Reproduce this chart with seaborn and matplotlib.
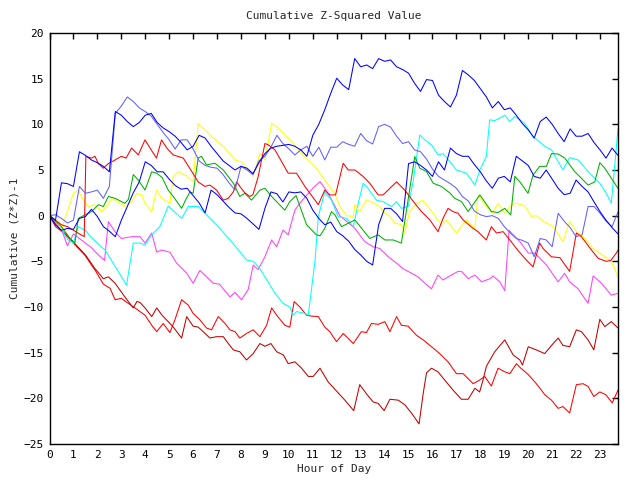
import matplotlib
matplotlib.use("Agg")
import matplotlib.pyplot as plt
import seaborn as sns
import pandas as pd

# ---- data: (hour, cumulative value) ----
blue_a_h = [0,0.25,0.5,0.75,1.0,1.25,1.5,1.75,2.0,2.25,2.5,2.75,3.0,3.25,3.5,3.75,4.0,4.25,4.5,4.75,5.0,5.25,5.5,5.75,6.0,6.25,6.5,6.75,7.0,7.25,7.5,7.75,8.0,8.25,8.5,8.75,9.0,9.25,9.5,9.75,10.0,10.25,10.5,10.75,11.0,11.25,11.5,11.75,12.0,12.25,12.5,12.75,13.0,13.25,13.5,13.75,14.0,14.25,14.5,14.75,15.0,15.25,15.5,15.75,16.0,16.25,16.5,16.75,17.0,17.25,17.5,17.75,18.0,18.25,18.5,18.75,19.0,19.25,19.5,19.75,20.0,20.25,20.5,20.75,21.0,21.25,21.5,21.75,22.0,22.25,22.5,22.75,23.0,23.25,23.5,23.75]
blue_a_v = [0,-0.5,3.6,3.5,3.2,7.0,6.6,6.1,5.8,5.4,4.8,11.4,11.0,10.3,9.75,10.2,11.0,11.2,10.2,9.6,9.2,8.7,8.0,7.2,7.6,8.8,8.5,7.6,6.8,6.0,5.5,5.0,5.4,5.2,4.6,5.8,6.8,7.4,7.6,7.7,7.8,7.6,7.2,6.5,8.8,10.0,11.6,13.4,15.05,14.3,13.8,17.2,16.3,16.5,16.1,17.2,16.9,17.05,16.3,16.0,15.6,14.5,13.6,14.9,14.8,13.2,12.5,11.9,13.2,15.9,15.4,14.8,13.9,13.0,11.8,12.5,11.6,11.8,11.0,10.1,9.4,8.5,10.3,10.8,10.0,9.0,8.1,9.5,8.7,8.7,9.0,8.0,7.2,6.3,7.4,6.6]

blue_b_h = [0,0.25,0.5,0.75,1.0,1.25,1.5,1.75,2.0,2.25,2.5,2.75,3.0,3.25,3.5,3.75,4.0,4.25,4.5,4.75,5.0,5.25,5.5,5.75,6.0,6.25,6.5,6.75,7.0,7.25,7.5,7.75,8.0,8.25,8.5,8.75,9.0,9.25,9.5,9.75,10.0,10.25,10.5,10.75,11.0,11.25,11.5,11.75,12.0,12.25,12.5,12.75,13.0,13.25,13.5,13.75,14.0,14.25,14.5,14.75,15.0,15.25,15.5,15.75,16.0,16.25,16.5,16.75,17.0,17.25,17.5,17.75,18.0,18.25,18.5,18.75,19.0,19.25,19.5,19.75,20.0,20.25,20.5,20.75,21.0,21.25,21.5,21.75,22.0,22.25,22.5,22.75,23.0,23.25,23.5,23.75]
blue_b_v = [0,-1.0,-1.6,-1.4,-1.5,-0.3,-0.1,0.7,-0.1,-1.2,-1.7,-2.3,-0.5,1.0,2.5,3.7,5.9,5.5,4.8,4.8,4.0,3.3,2.9,3.0,2.2,1.4,0.3,2.8,2.3,1.6,0.9,0.3,0.2,-0.3,-0.9,-1.5,0.8,2.6,2.4,1.5,2.6,2.5,2.6,1.9,0.6,-0.3,-1.0,-0.7,-1.75,-2.2,-2.8,-3.7,-4.3,-5.0,-5.4,-1.0,0.8,0.8,0.2,-0.65,5.7,5.9,5.5,5.0,4.3,5.9,5.0,7.4,6.8,6.5,6.5,5.6,4.8,3.8,3.0,4.1,4.3,3.7,6.5,6.0,5.5,4.3,4.1,5.0,4.0,3.0,2.3,2.45,3.9,3.2,2.6,1.5,0.44,-0.5,-1.3,-2.0]

peri_h = [0,0.25,0.5,0.75,1.0,1.25,1.5,1.75,2.0,2.25,2.5,2.75,3.0,3.25,3.5,3.75,4.0,4.25,4.5,4.75,5.0,5.25,5.5,5.75,6.0,6.25,6.5,6.75,7.0,7.25,7.5,7.75,8.0,8.25,8.5,8.75,9.0,9.25,9.5,9.75,10.0,10.25,10.5,10.75,11.0,11.25,11.5,11.75,12.0,12.25,12.5,12.75,13.0,13.25,13.5,13.75,14.0,14.25,14.5,14.75,15.0,15.25,15.5,15.75,16.0,16.25,16.5,16.75,17.0,17.25,17.5,17.75,18.0,18.25,18.5,18.75,19.0,19.25,19.5,19.75,20.0,20.25,20.5,20.75,21.0,21.25,21.5,21.75,22.0,22.25,22.5,22.75,23.0,23.25,23.5,23.75]
peri_v = [0,0.1,-0.3,-0.8,-0.5,3.2,2.45,2.6,2.8,1.9,3.2,11.2,12.0,13.0,12.5,11.8,11.4,10.9,10.0,9.1,8.3,7.3,8.3,8.3,7.3,6.0,5.5,5.3,5.2,4.5,3.6,2.8,5.4,5.0,4.5,6.0,6.5,7.5,8.8,7.9,7.3,6.65,7.2,7.6,6.5,7.5,6.1,7.5,7.5,8.1,7.8,7.6,9.0,8.2,7.85,9.75,10.0,9.7,8.7,7.9,8.1,7.2,7.0,6.2,5.1,4.3,3.9,3.5,3.0,2.1,1.6,0.5,0.1,-0.1,0.0,-0.3,-1.2,-1.9,-2.5,-2.7,-3.0,-4.5,-2.5,-2.66,-3.4,0.26,-0.6,-1.3,-2.3,-2.1,1.0,1.0,0.26,-0.6,-1.2,0.4]

red_up_h = [0,0.25,0.5,0.75,1.0,1.25,1.45,1.52,1.75,1.9,2.04,2.25,2.46,2.74,3.0,3.2,3.43,3.71,3.99,4.25,4.47,4.68,4.9,5.17,5.59,6.0,6.21,6.49,6.7,6.98,7.26,7.47,7.68,7.82,7.95,8.16,8.37,8.5,8.72,9.0,9.14,9.42,9.97,10.32,10.67,11.23,11.5,11.71,11.95,12.27,12.48,12.76,13.1,13.38,13.73,13.94,14.22,14.5,14.84,15.26,15.54,15.89,16.23,16.44,16.65,16.86,17.07,17.28,17.7,17.9,18.25,18.46,18.67,18.95,19.23,19.6,19.92,20.2,20.48,20.62,20.97,21.32,21.73,22.01,22.22,22.64,22.92,23.26,23.45,23.68,23.75]
red_up_v = [0,-0.5,-1.0,-1.2,-1.6,-2.0,-2.3,6.5,6.3,6.5,5.7,5.2,5.7,6.1,6.5,6.3,7.4,6.65,8.3,7.2,6.3,8.3,7.4,6.65,6.3,4.6,3.7,3.2,3.35,2.8,1.7,1.9,2.6,3.7,3.2,2.5,2.1,2.3,4.3,7.9,7.75,7.2,4.65,4.65,3.2,1.2,2.8,2.27,2.27,5.74,5.0,5.0,4.3,3.55,2.27,2.27,3.0,3.7,2.8,1.35,0.45,-0.47,-1.75,-0.3,0.8,0.44,0.26,-0.47,-1.4,-1.75,-2.66,-1.2,-1.9,-1.75,-2.66,-3.9,-4.85,-5.6,-3.0,-3.6,-4.5,-4.6,-6.1,-1.9,-2.3,-3.76,-4.67,-5.0,-4.9,-4.1,-3.76]

red_lo_h = [0,0.25,0.5,0.75,1.0,1.25,1.5,1.75,1.9,2.25,2.53,2.74,3.0,3.29,3.57,3.78,3.99,4.27,4.48,4.75,5.03,5.24,5.52,5.8,6.0,6.28,6.56,6.77,7.05,7.33,7.54,7.75,7.95,8.23,8.51,8.79,9.07,9.28,9.49,9.83,10.04,10.22,10.46,10.74,10.95,11.23,11.5,11.71,11.99,12.27,12.69,13.03,13.24,13.45,13.73,14.01,14.22,14.5,14.7,14.98,15.33,15.61,15.89,16.03,16.3,16.65,17.0,17.28,17.7,17.97,18.18,18.46,18.74,19.02,19.23,19.51,19.65,20.0,20.34,20.69,20.97,21.25,21.45,21.73,22.01,22.29,22.5,22.74,22.99,23.24,23.51,23.75]
red_lo_v = [0,-1.2,-1.7,-2.3,-3.0,-3.7,-4.4,-5.4,-5.95,-7.5,-7.95,-9.2,-9.05,-9.6,-10.1,-10.5,-10.9,-12.0,-12.7,-11.8,-12.8,-11.4,-9.2,-9.8,-10.7,-11.4,-12.3,-12.5,-11.05,-11.8,-12.5,-12.7,-13.4,-12.9,-12.5,-13.25,-12.0,-10.1,-10.9,-12.0,-12.2,-9.4,-10.0,-10.9,-11.0,-11.05,-12.2,-12.7,-13.8,-12.9,-14.0,-12.7,-12.8,-11.8,-11.9,-11.6,-12.7,-11.05,-12.0,-12.1,-13.1,-13.6,-14.2,-14.5,-15.1,-16.0,-17.3,-17.3,-18.4,-18.0,-17.6,-18.65,-16.7,-17.1,-17.3,-16.2,-16.6,-17.4,-18.4,-19.6,-20.2,-21.1,-20.9,-21.6,-18.5,-18.4,-18.7,-19.8,-19.3,-19.6,-20.5,-19.1]

dred_h = [0,0.25,0.5,0.75,1.0,1.25,1.5,1.9,2.25,2.46,2.74,3.15,3.5,3.65,3.78,3.99,4.27,4.48,4.7,4.96,5.17,5.52,5.73,6.0,6.21,6.42,6.7,6.98,7.26,7.47,7.68,7.95,8.23,8.51,8.79,9.0,9.25,9.49,9.77,9.97,10.25,10.53,10.81,11.02,11.3,11.64,11.92,12.34,12.71,12.96,13.24,13.52,13.73,13.98,14.22,14.57,14.84,15.12,15.44,15.61,15.75,15.96,16.23,16.51,16.86,17.21,17.49,17.77,17.97,18.11,18.25,18.6,19.02,19.37,19.65,19.76,20.0,20.34,20.69,21.04,21.25,21.45,21.73,22.01,22.22,22.5,22.74,22.99,23.2,23.47,23.75]
dred_v = [0,-0.9,-1.6,-2.2,-2.9,-3.6,-4.3,-5.8,-6.9,-6.7,-7.4,-8.9,-10.1,-9.4,-9.5,-10.1,-11.05,-10.1,-10.9,-11.6,-12.2,-13.4,-11.05,-12.1,-12.2,-12.7,-13.4,-13.25,-13.25,-14.0,-14.7,-14.9,-15.8,-15.1,-14.0,-14.3,-14.0,-14.9,-15.25,-16.2,-16.0,-16.7,-17.6,-17.6,-16.7,-18.2,-19.0,-20.2,-21.35,-18.5,-19.5,-20.4,-20.55,-21.35,-20.1,-20.2,-20.7,-21.6,-22.8,-19.5,-17.2,-16.7,-17.1,-18.0,-19.1,-20.1,-20.1,-18.9,-19.3,-18.0,-16.5,-14.9,-13.6,-15.25,-15.8,-16.35,-14.35,-14.7,-15.1,-14.0,-13.4,-14.2,-14.35,-12.5,-12.7,-13.6,-14.7,-11.35,-12.15,-11.6,-12.3]

yellow_h = [0,0.25,0.5,0.75,1.0,1.2,1.41,1.62,1.9,2.18,2.39,2.6,2.8,3.15,3.43,3.64,3.85,3.99,4.27,4.47,4.68,5.03,5.17,5.38,5.73,6.0,6.21,6.49,6.84,7.26,7.75,8.02,8.3,8.51,8.79,9.0,9.28,9.56,10.04,10.53,11.09,11.5,11.92,12.13,12.41,12.69,12.76,12.96,13.24,13.45,13.8,13.94,14.22,14.43,14.7,14.84,15.05,15.33,15.6,15.96,16.37,16.58,17.0,17.42,17.77,17.9,18.25,18.5,18.74,19.02,19.3,19.51,19.85,20.13,20.34,20.62,20.9,21.04,21.45,21.73,22.01,22.29,22.71,23.2,23.47,23.75]
yellow_v = [0,-0.5,-1.5,0.5,2.45,2.8,1.7,1.0,1.2,0.45,1.0,1.9,1.6,1.0,1.54,2.45,2.27,1.35,0.45,2.8,1.9,1.35,4.3,4.8,4.35,3.7,10.1,9.4,8.5,7.6,6.1,5.9,5.0,4.3,6.8,6.1,10.1,9.6,8.3,6.8,5.4,3.9,2.4,1.0,0.0,-0.1,1.2,0.45,1.7,1.5,1.0,0.45,-0.1,-0.8,-1.0,-1.9,0.5,1.35,1.7,0.5,-1.0,-0.47,-1.9,-0.47,-1.4,2.27,1.0,0.3,1.35,0.26,1.2,1.35,1.1,-0.1,0.0,-0.6,-1.0,-1.2,-2.84,-0.65,-1.75,-2.3,-3.6,-4.5,-5.0,-6.7]

green_h = [0,0.25,0.5,0.86,1.06,1.2,1.48,1.76,2.04,2.25,2.46,2.74,3.15,3.3,3.5,3.71,3.99,4.27,4.47,4.7,4.96,5.17,5.52,5.7,5.87,6.0,6.21,6.35,6.56,6.91,7.26,7.68,7.95,8.16,8.44,8.79,9.0,9.28,9.83,10.04,10.3,10.74,11.15,11.3,11.5,11.78,11.92,12.2,12.76,13.38,13.73,14.01,14.36,14.7,14.98,15.26,15.47,15.75,16.03,16.37,16.72,16.93,17.21,17.49,17.98,18.46,18.74,19.02,19.27,19.44,19.65,19.99,20.2,20.48,20.76,20.97,21.25,21.53,21.94,22.22,22.5,22.78,22.99,23.2,23.47,23.75]
green_v = [0,-0.6,-1.2,-2.5,-3.0,-0.3,0.08,0.45,1.2,1.0,2.1,1.9,1.35,1.8,4.5,3.9,2.8,4.8,4.65,4.2,2.8,2.1,0.8,1.8,2.6,2.45,6.3,6.5,5.56,5.74,5.0,3.55,2.1,2.45,1.7,2.8,3.0,2.1,0.6,1.54,2.2,-1.0,-2.1,-2.2,-1.4,0.44,0.1,-1.2,-0.47,-2.5,-2.1,-2.66,-2.66,-3.0,1.72,6.47,5.2,4.83,3.55,3.2,2.5,1.9,1.54,0.45,2.27,0.45,0.34,0.8,0.08,4.3,3.7,2.45,4.45,5.4,5.4,6.8,6.75,6.3,4.83,4.1,3.35,3.7,5.8,5.2,4.1,3.0]

cyan_h = [0,0.25,0.5,0.75,1.0,1.2,1.5,1.75,2.0,2.32,2.75,3.22,3.5,3.78,3.99,4.3,4.61,4.96,5.52,5.8,6.21,6.56,7.12,7.54,7.95,8.23,8.51,8.79,9.42,9.76,10.04,10.18,10.32,10.67,10.81,11.09,11.23,11.5,11.78,12.06,12.41,12.69,12.9,13.1,13.3,13.66,13.94,14.29,14.5,14.7,14.98,15.19,15.47,15.68,15.96,16.23,16.44,16.7,17.0,17.42,17.77,17.98,18.25,18.39,18.6,19.02,19.23,19.44,19.65,19.85,20.2,20.69,20.97,21.45,21.73,22.08,22.5,22.99,23.26,23.47,23.61,23.75]
cyan_v = [0,-0.6,-1.5,-2.6,-3.0,-1.2,-1.6,-2.4,-3.0,-3.76,-5.6,-7.6,-3.0,-3.0,-3.2,-2.0,-1.2,1.06,-0.3,1.0,1.0,0.08,-1.4,-2.66,-3.94,-4.85,-5.0,-5.8,-8.5,-9.6,-10.0,-10.9,-10.5,-10.7,-10.9,-5.0,-0.1,2.6,1.7,-0.1,-0.3,-1.2,1.35,3.55,3.0,1.7,1.54,1.0,1.54,0.8,1.0,3.7,8.84,8.3,7.75,6.65,6.8,6.0,5.0,4.65,3.35,5.0,6.5,10.5,10.4,11.0,10.3,10.85,10.5,10.1,8.66,7.6,7.2,5.0,6.36,6.1,4.83,3.55,2.45,1.35,5.4,9.5]

mag_h = [0,0.25,0.5,0.75,1.0,1.25,1.5,1.75,2.0,2.3,2.46,2.75,3.0,3.43,3.78,3.99,4.27,4.48,4.68,5.03,5.31,5.73,6.0,6.28,6.56,6.84,7.1,7.54,7.75,8.02,8.3,8.51,8.72,9.0,9.28,9.49,9.76,9.97,10.25,10.5,10.8,11.0,11.3,11.5,11.71,12.13,12.76,13.17,13.52,13.8,14.15,14.5,14.77,15.12,15.4,15.68,15.96,16.23,16.44,16.79,17.07,17.21,17.49,17.77,18.05,18.4,18.53,18.81,19.02,19.2,19.3,19.65,20.0,20.27,20.5,20.76,21.25,21.52,21.73,22.08,22.5,22.71,23.06,23.47,23.75]
mag_v = [0,-0.8,-1.5,-3.3,-2.0,-2.5,-3.0,-3.5,-4.2,-4.9,-0.65,-1.8,-2.5,-2.3,-2.3,-3.0,-1.9,-4.0,-3.76,-4.0,-5.2,-6.3,-7.4,-6.0,-6.7,-7.4,-7.5,-8.9,-8.4,-9.2,-8.1,-5.4,-5.9,-4.5,-2.66,-3.4,-1.57,-2.1,0.6,1.5,2.4,3.0,3.73,3.0,2.1,0.0,-1.4,-2.84,-3.4,-3.6,-4.5,-5.2,-5.8,-6.3,-6.7,-7.4,-8.0,-6.5,-7.05,-6.5,-6.1,-6.1,-6.9,-6.5,-7.25,-6.9,-6.6,-7.25,-8.2,-1.6,-1.9,-2.84,-4.1,-4.1,-4.7,-5.4,-7.25,-6.3,-7.25,-8.0,-9.6,-6.6,-7.4,-8.7,-8.5]

series = [
    (red_lo_h, red_lo_v, "#ff0000"),
    (dred_h, dred_v, "#c00000"),
    (mag_h, mag_v, "#ff40ff"),
    (cyan_h, cyan_v, "#00ffff"),
    (yellow_h, yellow_v, "#ffff00"),
    (green_h, green_v, "#00b000"),
    (red_up_h, red_up_v, "#ff0000"),
    (peri_h, peri_v, "#6060ff"),
    (blue_b_h, blue_b_v, "#0000ff"),
    (blue_a_h, blue_a_v, "#0000ff"),
]

sns.set_style("white")
plt.rcParams["font.family"] = ["DejaVu Sans Mono"]

fig = plt.figure(figsize=(6.4, 4.8), dpi=100)
ax = fig.add_axes([49.5/640, 1-444/480, (618-49.5)/640, (444-33)/480])

for h, v, c in series:
    df = pd.DataFrame({"hour": h, "val": v})
    sns.lineplot(data=df, x="hour", y="val", color=c, linewidth=0.75,
                 estimator=None, sort=False, ax=ax)

ax.set_xlim(0, 23.75)
ax.set_ylim(-25, 20)
ax.set_xticks(range(0, 24))
ax.set_yticks(range(-25, 21, 5))
ax.tick_params(direction="in", length=4, width=1, top=True, right=True,
               labelsize=8, pad=4, colors="black")
for s in ax.spines.values():
    s.set_linewidth(1)
    s.set_color("black")
ax.set_xlabel("Hour of Day", fontsize=8, labelpad=3)
ax.set_ylabel("Cumulative (Z*Z)-1", fontsize=8, labelpad=3)
ax.set_title("Cumulative Z-Squared Value", fontsize=8, pad=10)

fig.savefig("out.png", dpi=100)
